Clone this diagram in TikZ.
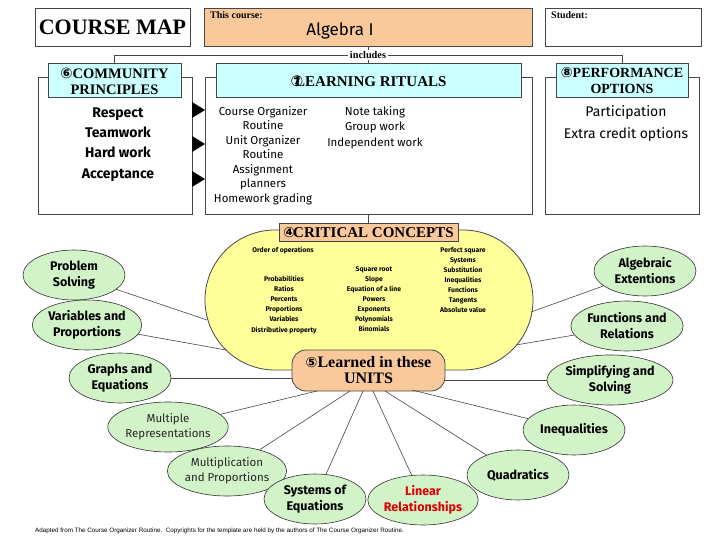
\documentclass[tikz,border=0pt]{standalone}
\usepackage{fontspec}
\setmainfont{Liberation Serif}
\newfontfamily\cfont{Fira Sans}
\newfontfamily\symf{DejaVu Sans}
\newfontfamily\footf{Liberation Sans}
\usetikzlibrary{shapes.geometric,shapes.misc,calc}
\definecolor{peach}{RGB}{249,200,155}
\definecolor{hcyan}{RGB}{204,255,255}
\definecolor{oyel}{RGB}{255,255,153}
\definecolor{lgreen}{RGB}{210,242,200}
\definecolor{lineg}{RGB}{70,70,70}
\definecolor{lred}{RGB}{220,0,0}
\newcommand\fsz[2]{\fontsize{#1pt}{#2pt}\selectfont}
\begin{document}
\begin{tikzpicture}[x=1pt,y=-1pt,
  box/.style={draw=lineg, line width=0.8pt, inner sep=0pt},
  hdr/.style={draw=lineg, fill=hcyan, line width=1pt, inner sep=0pt, align=center},
  oval/.style={ellipse, draw=black!80, fill=lgreen, line width=0.6pt, minimum width=102pt, minimum height=50pt, inner sep=0pt, align=center, font=\cfont\bfseries\fsz{12.5}{16}},
  ovallight/.style={oval, font=\cfont\fsz{11.5}{15}, text=black!85},
  conn/.style={draw=lineg, line width=0.6pt},
  item/.style={align=center, inner sep=0pt},
]
\fill[white] (0,0) rectangle (720,540);
\useasboundingbox (0,0) rectangle (720,540);

% top row
\node[box, minimum width=155pt, minimum height=38pt, font=\bfseries\fsz{22}{22}] (course) at (112.5,27) {COURSE MAP};
\node[box, fill=peach, minimum width=328pt, minimum height=38pt] (algebra) at (368,27) {};
\node[anchor=north west, inner sep=0pt, font=\bfseries\fsz{10}{10}] (thiscourse) at (210,11) {This course:};
\node[inner sep=0pt, font=\cfont\fsz{17}{17}] (algname) at (340,31) {Algebra I};
\node[box, minimum width=156pt, minimum height=38pt] (student) at (623,27) {};
\node[anchor=north west, inner sep=0pt, font=\bfseries\fsz{10}{10}] (studlab) at (551,11) {Student:};

% outer boxes
\node[box, minimum width=154pt, minimum height=137pt] (commbox) at (115,145.5) {};
\node[box, minimum width=327pt, minimum height=137pt] (learnbox) at (368.5,145.5) {};
\node[box, minimum width=154pt, minimum height=137pt] (perfbox) at (622,145.5) {};

% includes connector
\node[fill=white, inner sep=1.5pt, font=\bfseries\fsz{10.3}{10.3}] (incl) at (368,55) {includes};
\node[hdr, minimum width=133pt, minimum height=34pt, font=\bfseries\fsz{14.5}{16}] (commhead) at (114.5,81) {{\symf\fsz{14.5}{16}⑥}COMMUNITY\\PRINCIPLES};
\node[hdr, minimum width=305pt, minimum height=34pt, font=\bfseries\fsz{15}{16}] (learnhead) at (368.5,81) {{\symf\fsz{15}{16}⑦}\kern-8pt LEARNING RITUALS};
\node[hdr, minimum width=132pt, minimum height=34pt, font=\bfseries\fsz{14}{16}] (perfhead) at (622,81) {{\symf\fsz{14}{16}⑧}PERFORMANCE\\OPTIONS};
\draw[conn] (commhead.north) |- (incl.west);
\draw[conn] (perfhead.north) |- (incl.east);
\draw[conn] (algebra.south -| incl) -- (incl.north);
\draw[conn] (incl.south) -- (learnhead.north -| incl);

% box contents
\node[item, font=\cfont\bfseries\fsz{14}{20.3}] (commitems) at (118,144.5) {Respect\\Teamwork\\Hard work\\Acceptance};
\node[item, font=\cfont\fsz{11.5}{14.5}] (learncol1) at (263,155.5) {Course Organizer\\Routine\\Unit Organizer\\Routine\\Assignment\\planners\\Homework grading};
\node[item, font=\cfont\fsz{11.5}{15.5}] (learncol2) at (375,127.5) {Note taking\\Group work\\Independent work};
\node[item, font=\cfont\fsz{14}{22}] (perfitems) at (626,124) {Participation\\Extra credit options};

% triangles
\fill[black] (192,102) -- (205,110) -- (192,118) -- cycle;
\fill[black] (192,136) -- (205,144) -- (192,152) -- cycle;
\fill[black] (192,171) -- (205,179) -- (192,187) -- cycle;

% critical concepts oval
\node[rounded rectangle, draw=lineg, fill=oyel, line width=0.8pt, minimum width=328pt, minimum height=140pt, inner sep=0pt] (critoval) at (369,300) {};
\node[box, fill=peach, line width=1pt, minimum width=179pt, minimum height=17pt, font=\bfseries\fsz{15}{15}] (crithead) at (368.5,232.5) {{\symf\fsz{14}{15}④}\kern-2pt CRITICAL CONCEPTS};
\draw[conn] (learnbox.south -| crithead) -- (crithead.north);

\node[item, font=\cfont\bfseries\fsz{6.8}{10}] (ooo) at (283,250) {Order of operations};
\node[item, font=\cfont\bfseries\fsz{6.8}{10.2}] (critcol1) at (284,304.5) {Probabilities\\Ratios\\Percents\\Proportions\\Variables\\Distributive property};
\node[item, font=\cfont\bfseries\fsz{6.8}{10}] (critcol2) at (374,299) {Square root\\Slope\\Equation of a line\\Powers\\Exponents\\Polynomials\\Binomials};
\node[item, font=\cfont\bfseries\fsz{6.8}{10}] (critcol3) at (463,280) {Perfect square\\Systems\\Substitution\\Inequalities\\Functions\\Tangents\\Absolute value};

% units box
\node[draw=lineg, fill=peach, line width=0.8pt, rounded corners=14pt, minimum width=153pt, minimum height=41pt, inner sep=0pt, align=center, font=\bfseries\fsz{16}{16}] (units) at (368.5,370.5) {{\symf\fsz{14}{16}⑤}Learned in these\\UNITS};

% unit ellipses
\node[oval] (ps) at (74,275) {Problem\\Solving};
\node[oval] (vp) at (87,325) {Variables and\\Proportions};
\node[oval] (ge) at (120,378) {Graphs and\\Equations};
\node[ovallight] (mr) at (168,427) {Multiple\\Representations};
\node[ovallight] (mp) at (227,471) {Multiplication\\and Proportions};
\node[oval] (se) at (315,499) {Systems of\\Equations};
\node[oval, text=lred] (lr) at (423,500) {Linear\\Relationships};
\node[oval] (qu) at (518,475) {Quadratics};
\node[oval] (ineq) at (574,430) {Inequalities};
\node[oval] (ss) at (610,380) {Simplifying and\\Solving};
\node[oval] (fr) at (627,326) {Functions and\\Relations};
\node[oval] (ae) at (645,271) {Algebraic\\Extentions};

% connector end points
\coordinate (c1) at (207,320);
\coordinate (c2) at (226,350);
\coordinate (c3) at (516,345);
\coordinate (c4) at (531,312);
\coordinate (u1) at (292,378);
\coordinate (u2) at (317,391);
\coordinate (u3) at (350,391);
\coordinate (u4) at (363,391);
\coordinate (u5) at (373,391);
\coordinate (u6) at (385,391);
\coordinate (u7) at (412,390);
\coordinate (u8) at (445,380);

\draw[conn] (ps) -- (c1);
\draw[conn] (vp) -- (c2);
\draw[conn] (ge) -- (u1);
\draw[conn] (mr) -- (u2);
\draw[conn] (mp) -- (u3);
\draw[conn] (se) -- (u4);
\draw[conn] (lr) -- (u5);
\draw[conn] (qu) -- (u6);
\draw[conn] (ineq) -- (u7);
\draw[conn] (ss) -- (u8);
\draw[conn] (fr) -- (c3);
\draw[conn] (ae) -- (c4);

% footer
\node[anchor=west, inner sep=0pt, font=\footf\fsz{6.3}{6.3}] (footer) at (35,531) {Adapted from The Course Organizer Routine.\ \ Copyrights for the template are held by the authors of The Course Organizer Routine.};
\end{tikzpicture}
\end{document}
